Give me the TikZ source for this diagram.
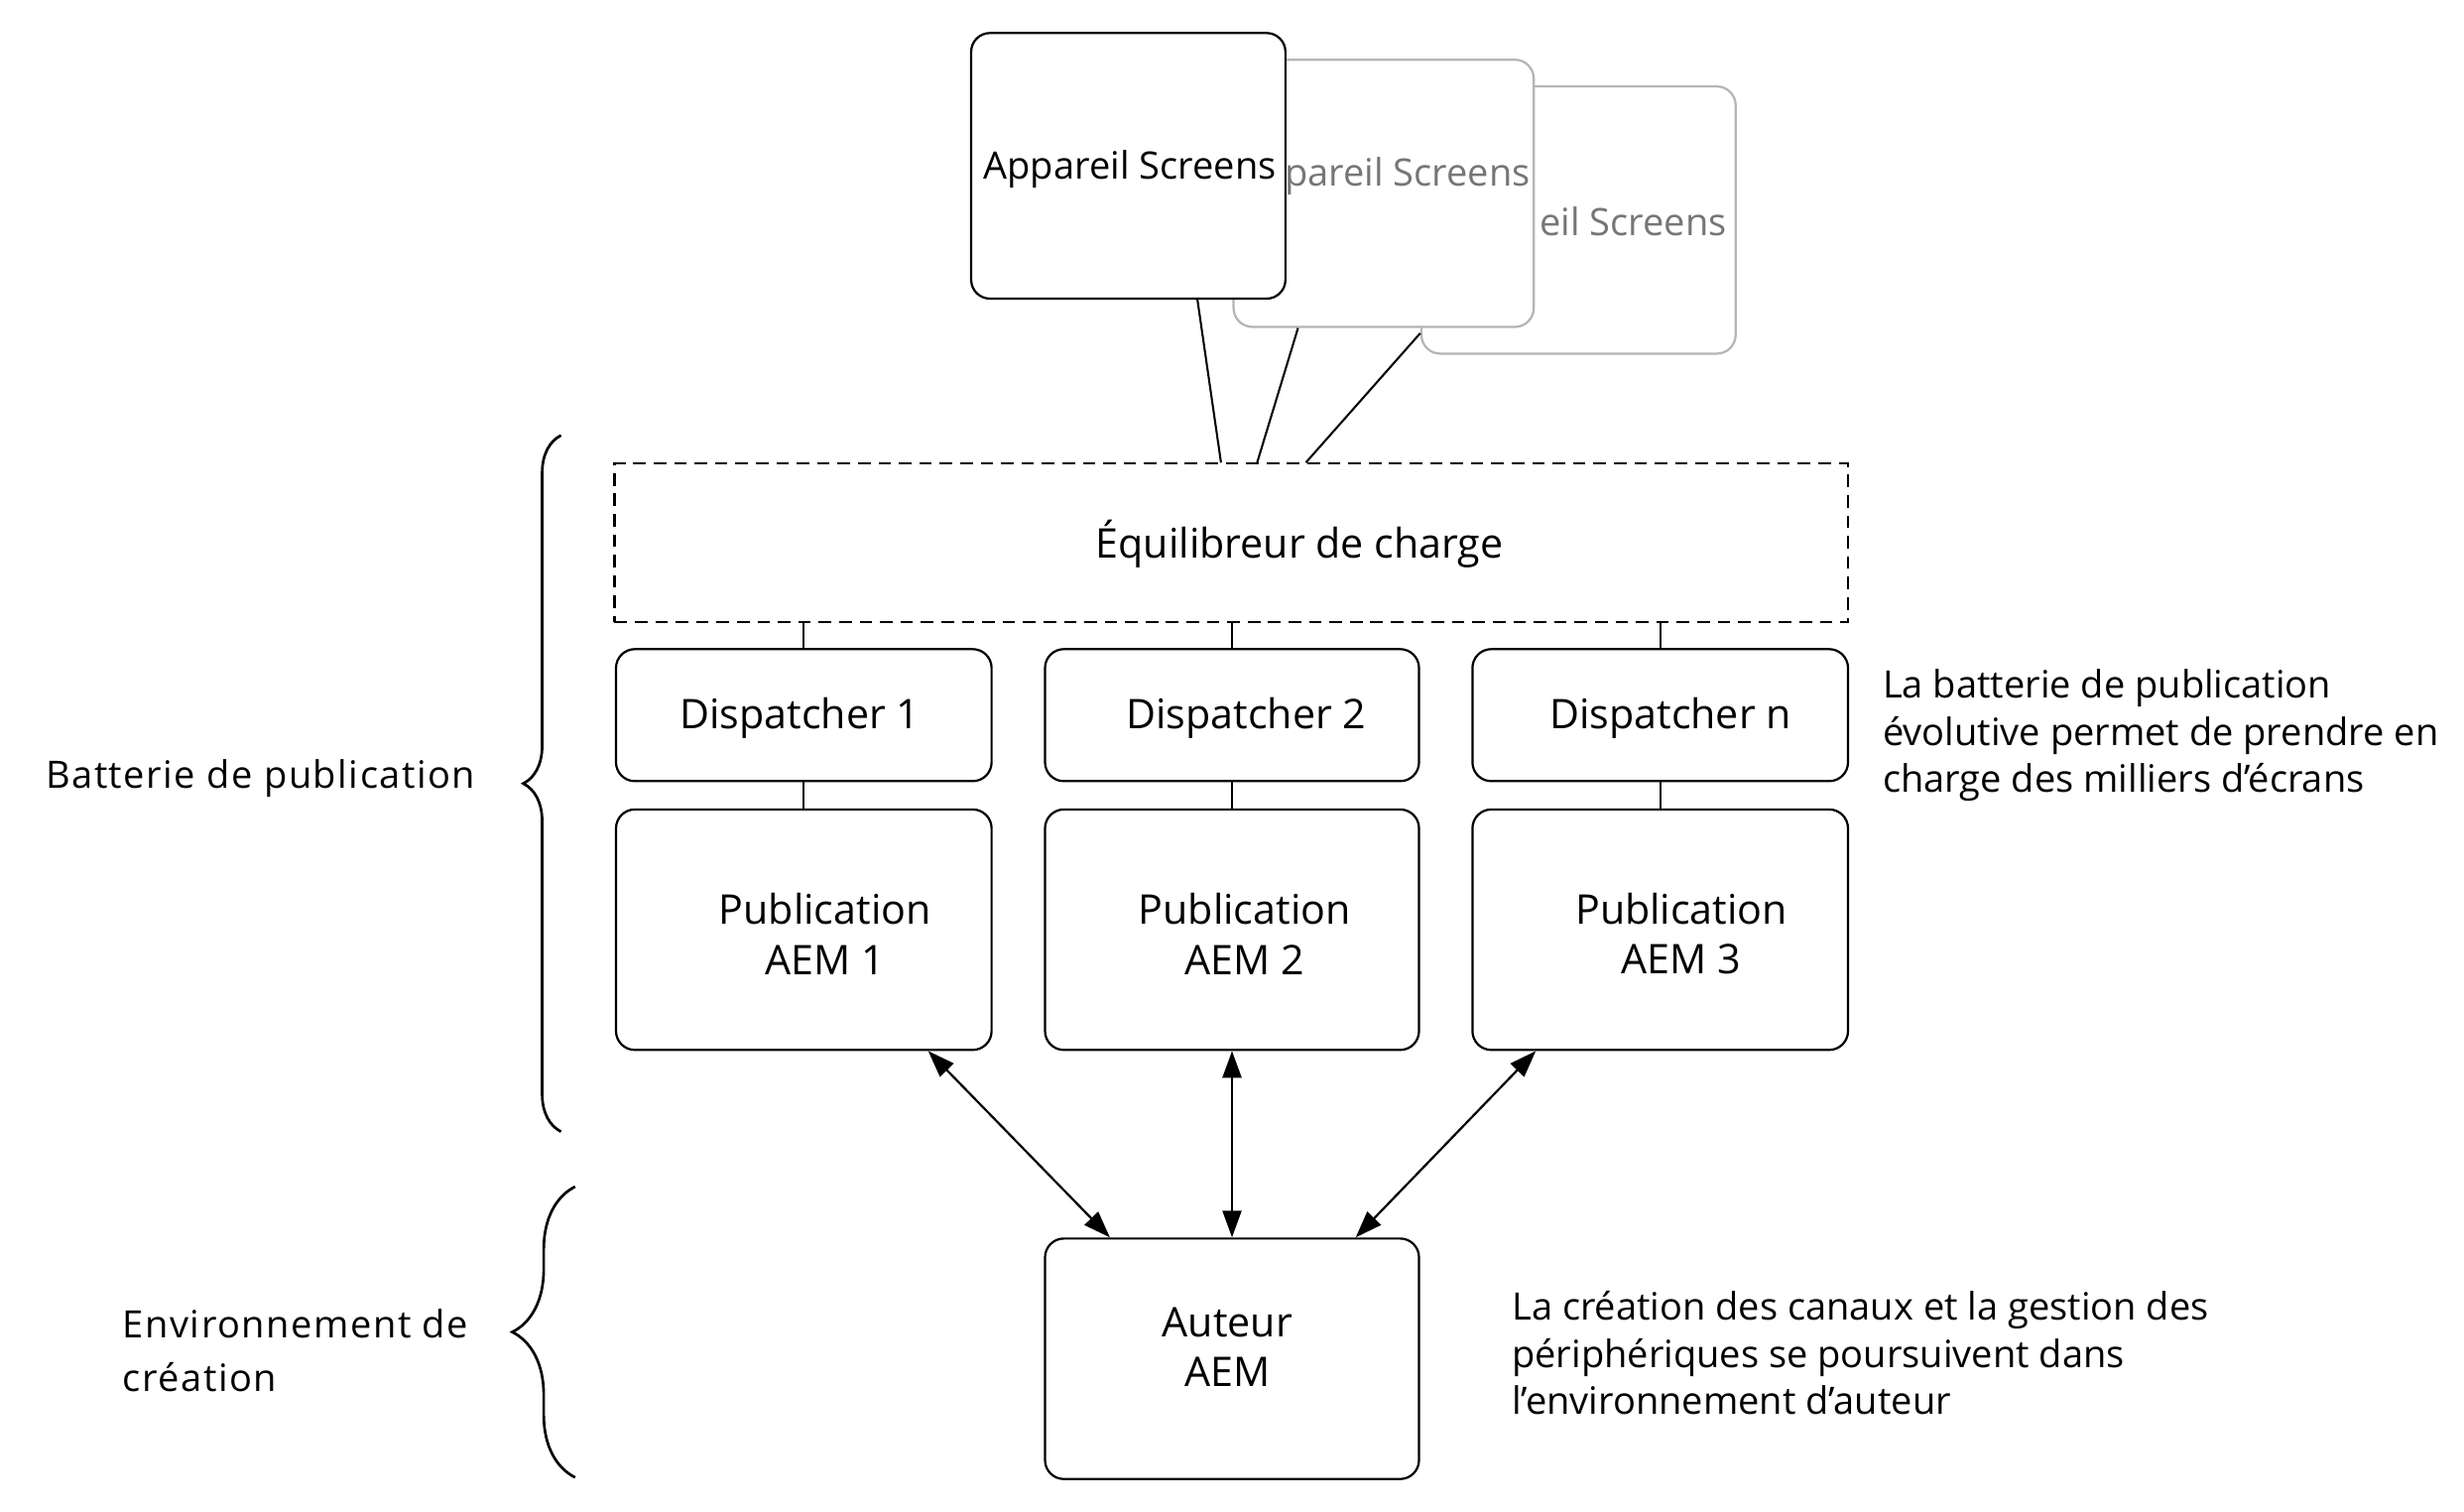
\documentclass[tikz,border=0pt]{standalone}
\usepackage{fontspec}
\setmainfont{Open Sans}
\newfontfamily\sidefont[LetterSpace=4]{Open Sans}
\usetikzlibrary{arrows.meta,decorations.pathreplacing,calc}
\definecolor{lgray}{HTML}{B5B5B5}
\definecolor{tgray}{HTML}{767676}
\begin{document}
\begin{tikzpicture}[x=1pt,y=-1pt,
  box/.style={draw, line width=1.4pt, rounded corners=12pt, fill=white, inner sep=0pt},
  dbox/.style={box, minimum width=239pt, minimum height=84pt},
  pbox/.style={box, minimum width=239pt, minimum height=153pt},
  sbox/.style={box, minimum width=200pt, minimum height=170pt},
  blabel/.style={font=\fontsize{26}{32}\selectfont, align=center, inner sep=0pt},
  slabel/.style={font=\fontsize{24}{29}\selectfont, inner sep=0pt},
  rtext/.style={font=\fontsize{24}{30}\selectfont, align=left, inner sep=0pt, anchor=west},
  side/.style={font=\sidefont\fontsize{24}{34}\selectfont, align=left, inner sep=0pt, anchor=west},
  conn/.style={line width=1.3pt},
  dconn/.style={line width=1.4pt, {Triangle[length=17pt,width=12pt]}-{Triangle[length=17pt,width=12pt]}},
  brc/.style={line width=1.7pt, decorate}
]
\useasboundingbox[fill=white] (0,0) rectangle (1568,962);

% stacked screen devices (back to front)
\node[sbox, draw=lgray] (A3) at (1004.5,140) {};
\node[slabel, text=tgray, anchor=east] (A3t) at (1099,141) {eil Screens};
\node[sbox, draw=lgray, minimum width=191pt] (A2) at (880.5,123) {};
\node[slabel, text=tgray, anchor=east] (A2t) at (974,112) {pareil Screens};
\node[sbox, minimum height=169pt] (A1) at (718,105.5) {};
\node[slabel] (A1t) at (719,108) {Appareil Screens};

% load balancer
\node[box, dashed, dash pattern=on 8pt off 5pt, rounded corners=0pt, minimum width=785pt, minimum height=101pt] (LB) at (783.5,345.5) {};
\node[blabel] (LBt) at (827,346) {Équilibreur de charge};

\draw[conn] ([xshift=44pt]A1.south) -- ([xshift=-6.5pt]LB.north);
\draw[conn] ([xshift=-54.5pt]A2.south) -- ([xshift=16.5pt]LB.north);
\draw[conn] ([yshift=-72pt]A3.west) -- ([xshift=47.5pt]LB.north);

% dispatchers
\node[dbox] (D1) at (511.5,455) {};
\node[dbox, minimum width=238pt] (D2) at (784,455) {};
\node[dbox] (Dn) at (1056.5,455) {};
\node[blabel] (D1t) at (509,457) {Dispatcher 1};
\node[blabel] (D2t) at (793,457) {Dispatcher 2};
\node[blabel] (Dnt) at (1063,457) {Dispatcher n};

\draw[conn] (D1.north) -- (D1.north |- LB.south);
\draw[conn] (D2.north) -- (D2.north |- LB.south);
\draw[conn] (Dn.north) -- (Dn.north |- LB.south);

% publication instances
\node[pbox] (P1) at (511.5,591.5) {};
\node[pbox, minimum width=238pt] (P2) at (784,591.5) {};
\node[pbox] (P3) at (1056.5,591.5) {};
\node[blabel] (P1t) at (525,594) {Publication\\AEM 1};
\node[blabel] (P2t) at (792,594) {Publication\\AEM 2};
\node[blabel] (P3t) at (1070,594) {Publication\\AEM 3};

\draw[conn] (P1.north) -- (D1.south);
\draw[conn] (P2.north) -- (D2.south);
\draw[conn] (P3.north) -- (Dn.south);

% author
\node[pbox, minimum width=238pt] (Au) at (784,864.5) {};
\node[blabel] (Aut) at (781,857) {Auteur\\AEM};

\draw[dconn] ([xshift=-41pt]P1.south east) -- ([xshift=42pt]Au.north west);
\draw[dconn] (P2.south) -- (Au.north);
\draw[dconn] ([xshift=41pt]P3.south west) -- ([xshift=-41pt]Au.north east);

% side texts
\node[rtext] (R1) at (1198,468) {La batterie de publication\\évolutive permet de prendre en\\charge des milliers d’écrans};
\node[rtext] (R2) at (962,861) {La création des canaux et la gestion des\\périphériques se poursuivent dans\\l’environnement d’auteur};

% braces and group labels
\coordinate (B1b) at (357,720);
\coordinate (B1t) at (357,277);
\draw[brc, decoration={brace, amplitude=24pt}] (B1b) -- (B1t);
\coordinate (B2b) at (366,940);
\coordinate (B2t) at (366,755);
\draw[brc, decoration={brace, amplitude=40pt}] (B2b) -- (B2t);
\node[side] (L1) at (29,495) {Batterie de publication};
\node[side] (L2) at (78,859) {Environnement de\\création};
\end{tikzpicture}
\end{document}
